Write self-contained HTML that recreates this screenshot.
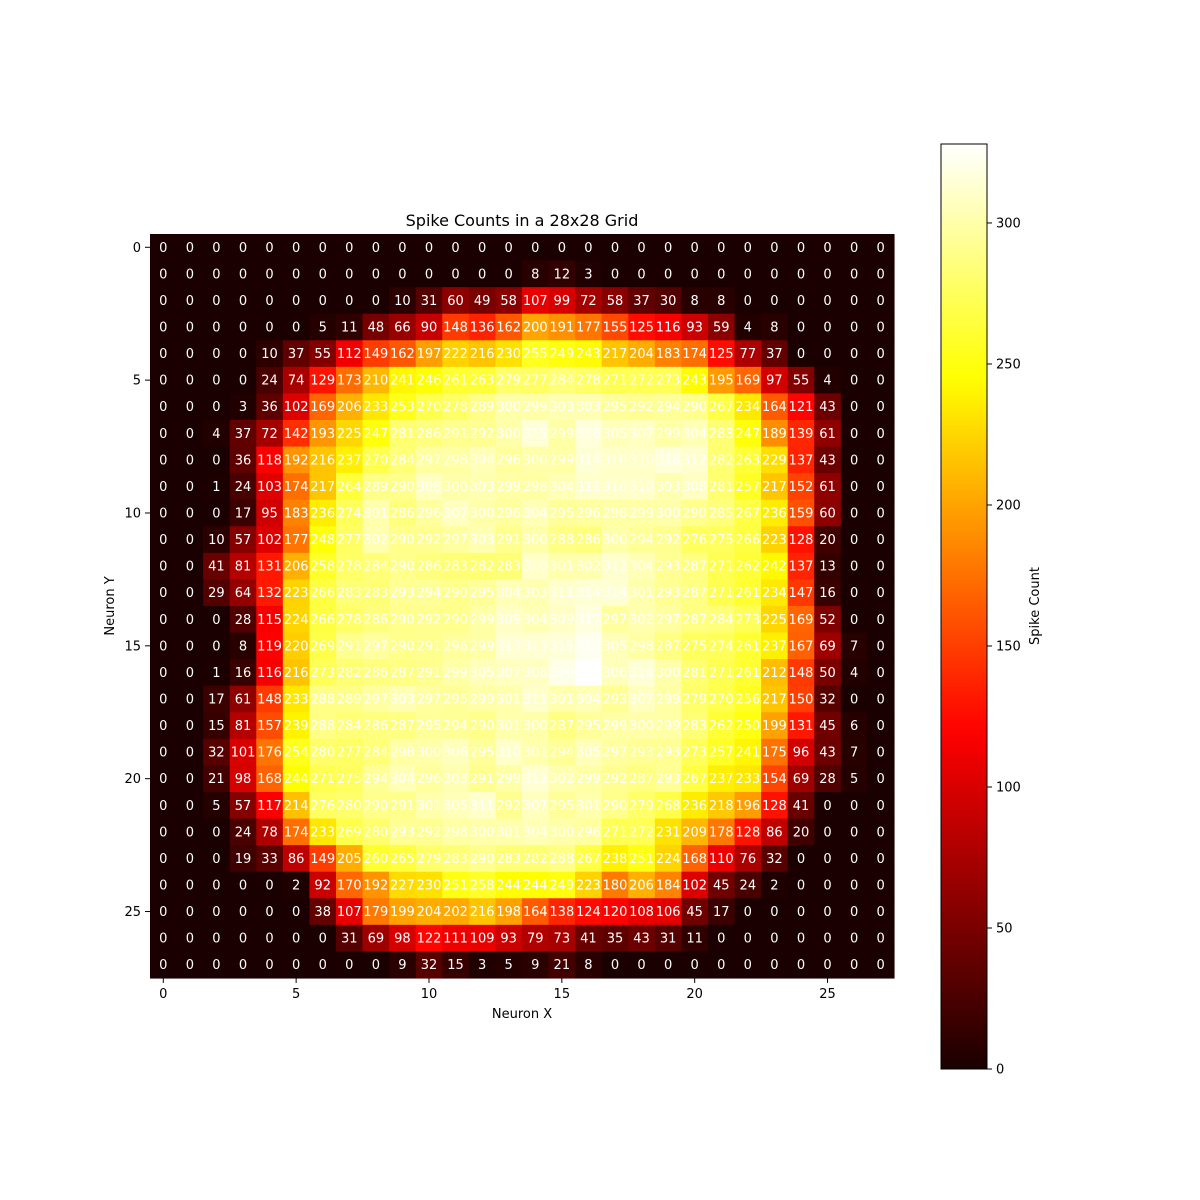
<!DOCTYPE html>
<html><head><meta charset="utf-8"><style>
html,body{margin:0;padding:0;background:#fff;}
svg{display:block;font-family:"DejaVu Sans","Liberation Sans",sans-serif;}
</style></head><body>
<svg id="chart" width="1200" height="1200" viewBox="0 0 1200 1200">
<defs><linearGradient id="cbgrad" x1="0" y1="1" x2="0" y2="0"></linearGradient></defs>
<text x="522" y="226" font-size="16" text-anchor="middle" fill="#000">Spike Counts in a 28x28 Grid</text>
<g id="cells"></g>
<g id="labels"></g>
<g id="axes"></g>
<text x="522" y="1018" font-size="13" text-anchor="middle">Neuron X</text>
<text x="0" y="0" font-size="13" text-anchor="middle" transform="translate(114,606) rotate(-90)">Neuron Y</text>
<g id="colorbar"></g>
<text x="0" y="0" font-size="13" text-anchor="middle" transform="translate(1039,606) rotate(-90)">Spike Count</text>
</svg>
<script>
const rows = [
[0,0,0,0,0,0,0,0,0,0,0,0,0,0,0,0,0,0,0,0,0,0,0,0,0,0,0,0],
[0,0,0,0,0,0,0,0,0,0,0,0,0,0,8,12,3,0,0,0,0,0,0,0,0,0,0,0],
[0,0,0,0,0,0,0,0,0,10,31,60,49,58,107,99,72,58,37,30,8,8,0,0,0,0,0,0],
[0,0,0,0,0,0,5,11,48,66,90,148,136,162,200,191,177,155,125,116,93,59,4,8,0,0,0,0],
[0,0,0,0,10,37,55,112,149,162,197,222,216,230,255,249,243,217,204,183,174,125,77,37,0,0,0,0],
[0,0,0,0,24,74,129,173,210,241,246,261,263,279,277,284,278,271,272,273,243,195,169,97,55,4,0,0],
[0,0,0,3,36,102,169,206,233,253,270,278,289,300,299,303,303,295,292,294,290,267,234,164,121,43,0,0],
[0,0,4,37,72,142,193,225,247,281,286,291,292,300,315,299,316,305,307,299,304,283,247,189,139,61,0,0],
[0,0,0,36,118,192,216,237,270,284,297,298,304,296,300,299,314,310,310,316,312,282,263,229,137,43,0,0],
[0,0,1,24,103,174,217,264,289,290,308,300,303,299,298,304,311,310,310,303,308,281,257,217,152,61,0,0],
[0,0,0,17,95,183,236,274,301,286,296,307,300,296,304,295,296,298,299,300,290,285,267,236,159,60,0,0],
[0,0,10,57,102,177,248,277,302,290,292,297,303,291,300,288,286,300,294,292,276,275,266,223,128,20,0,0],
[0,0,41,81,131,206,258,278,284,290,286,283,282,283,310,301,302,312,304,293,287,271,262,242,137,13,0,0],
[0,0,29,64,132,223,266,283,283,293,294,290,295,304,303,311,314,314,301,293,287,271,261,234,147,16,0,0],
[0,0,0,28,115,224,266,278,286,290,292,290,299,309,304,309,317,297,302,297,287,284,273,225,169,52,0,0],
[0,0,0,8,119,220,269,291,297,290,291,296,299,313,313,315,323,305,298,287,275,274,261,237,167,69,7,0],
[0,0,1,16,116,216,273,282,286,287,291,299,305,307,308,320,328,306,314,300,281,271,261,212,148,50,4,0],
[0,0,17,61,148,233,288,289,297,303,297,295,299,301,311,301,304,293,307,299,279,270,256,217,150,32,0,0],
[0,0,15,81,157,239,288,284,286,287,295,294,290,301,300,287,295,299,300,299,283,262,250,199,131,45,6,0],
[0,0,32,101,176,254,280,277,284,298,300,306,295,310,301,294,305,297,293,293,273,257,241,175,96,43,7,0],
[0,0,21,98,168,244,271,275,294,304,296,303,291,299,313,302,299,292,287,293,267,237,233,154,69,28,5,0],
[0,0,5,57,117,214,276,280,290,291,301,305,311,292,307,295,301,290,279,268,236,218,196,128,41,0,0,0],
[0,0,0,24,78,174,233,269,280,293,292,298,300,301,304,300,296,271,272,231,209,178,128,86,20,0,0,0],
[0,0,0,19,33,86,149,205,260,265,279,283,290,283,282,288,267,238,251,224,168,110,76,32,0,0,0,0],
[0,0,0,0,0,2,92,170,192,227,230,251,258,244,244,249,223,180,206,184,102,45,24,2,0,0,0,0],
[0,0,0,0,0,0,38,107,179,199,204,202,216,198,164,138,124,120,108,106,45,17,0,0,0,0,0,0],
[0,0,0,0,0,0,0,31,69,98,122,111,109,93,79,73,41,35,43,31,11,0,0,0,0,0,0,0],
[0,0,0,0,0,0,0,0,0,9,32,15,3,5,9,21,8,0,0,0,0,0,0,0,0,0,0,0]
];
const xTicks = [0,5,10,15,20,25];
const yTicks = [0,5,10,15,20,25];
const cbTicks = [0,50,100,150,200,250,300];

const NS = "http://www.w3.org/2000/svg";
const ax = {left:150, top:234, cell:26.57};
const nR = rows.length, nC = rows[0].length;
let vmax = 0; rows.forEach(r=>r.forEach(v=>{ if(v>vmax) vmax=v; }));
const vmin = 0;
function xPos(c){ return ax.left + c*ax.cell; }
function yPos(r){ return ax.top + r*ax.cell; }
function hot(t){
  t=Math.max(0,Math.min(1,t));
  const r=Math.min(1,Math.max(0,(t+0.0416)/0.4066));
  const g=Math.min(1,Math.max(0,(t-0.365079)/(0.746032-0.365079)));
  const b=Math.min(1,Math.max(0,(t-0.746032)/(1-0.746032)));
  return `rgb(${Math.round(r*255)},${Math.round(g*255)},${Math.round(b*255)})`;
}
function mk(tag, attrs, parent){ const e=document.createElementNS(NS,tag); for(const k in attrs) e.setAttribute(k,attrs[k]); parent.appendChild(e); return e; }

const cells=document.getElementById('cells'), labels=document.getElementById('labels'), axes=document.getElementById('axes');
rows.forEach((row,r)=>row.forEach((v,c)=>{
  const rect=mk('rect',{x:xPos(c),y:yPos(r),width:ax.cell+0.6,height:ax.cell+0.6,fill:hot((v-vmin)/(vmax-vmin))},cells);
  
  
  const t=mk('text',{x:xPos(c)+ax.cell/2,y:yPos(r)+ax.cell/2+4.5,'font-size':13,'text-anchor':'middle',fill:'#fff'},labels);
  t.textContent=v;
  
  
}));
const W=nC*ax.cell, H=nR*ax.cell;
xTicks.forEach(v=>{
  const x=xPos(v)+ax.cell/2;
  mk('line',{x1:x,x2:x,y1:ax.top+H,y2:ax.top+H+5,stroke:'#000','stroke-width':1},axes);
  const t=mk('text',{x:x,y:ax.top+H+20,'font-size':13,'text-anchor':'middle'},axes);
  t.textContent=v;
  
  
});
yTicks.forEach(v=>{
  const y=yPos(v)+ax.cell/2;
  mk('line',{x1:ax.left-5,x2:ax.left,y1:y,y2:y,stroke:'#000','stroke-width':1},axes);
  const t=mk('text',{x:ax.left-9,y:y+4.5,'font-size':13,'text-anchor':'end'},axes);
  t.textContent=v;
  
  
});
// colorbar
const cb={x:941,y:144,w:46,h:925};
const grad=document.getElementById('cbgrad');
for(let i=0;i<=40;i++){ mk('stop',{offset:(i/40),'stop-color':hot(i/40)},grad); }
const cbg=document.getElementById('colorbar');
mk('rect',{x:cb.x,y:cb.y,width:cb.w,height:cb.h,fill:'url(#cbgrad)',stroke:'#000','stroke-width':1},cbg);
cbTicks.forEach(v=>{
  const y=cb.y+cb.h-(v-vmin)/(vmax-vmin)*cb.h;
  mk('line',{x1:cb.x+cb.w,x2:cb.x+cb.w+5,y1:y,y2:y,stroke:'#000','stroke-width':1},cbg);
  const t=mk('text',{x:cb.x+cb.w+9,y:y+4.5,'font-size':13},cbg);
  t.textContent=v;
  
  
});
</script>
</body></html>
